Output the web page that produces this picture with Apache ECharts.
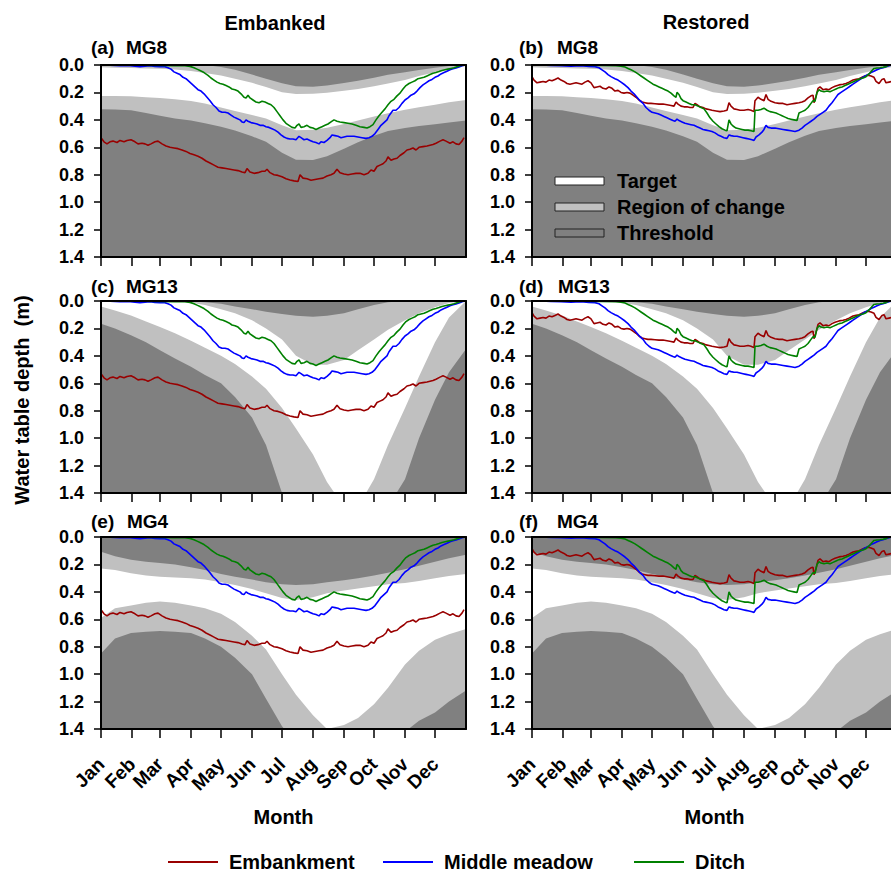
<!DOCTYPE html>
<html><head><meta charset="utf-8">
<script src="https://cdn.jsdelivr.net/npm/echarts@6/dist/echarts.min.js"></script>
<style>html,body{margin:0;padding:0;background:#fff}#c{width:891px;height:873px}</style>
</head><body><div id="c"></div><script>
// ---------- axis categories / ticks ----------
const MONTHS = ['Jan','Feb','Mar','Apr','May','Jun','Jul','Aug','Sep','Oct','Nov','Dec'];
const MONTH_START = [1,32,60,91,121,152,182,213,244,274,305,335];
const DEPTH_MIN = 0, DEPTH_MAX = 1.4, DEPTH_STEP = 0.2;

// ---------- band boundaries (depth, m) at these days ----------
const BAND_DAYS = [1,15,31,46,60,75,91,105,121,135,152,166,182,196,213,227,244,258,274,288,305,319,335,349,366];

const MG8_UPPER_THRESHOLD = [0,0,0,0,0,0,0,0,0.015,0.035,0.07,0.1,0.133,0.155,0.158,0.15,0.132,0.115,0.093,0.072,0.052,0.036,0.02,0.008,0];
const MG8_UPPER_TARGET    = [0.017,0.02,0.022,0.025,0.028,0.033,0.043,0.058,0.077,0.1,0.13,0.16,0.198,0.212,0.21,0.202,0.188,0.175,0.155,0.135,0.11,0.08,0.052,0.03,0.008];
const MG8_LOWER_TARGET    = [0.226,0.226,0.228,0.235,0.24,0.25,0.262,0.28,0.31,0.335,0.365,0.39,0.44,0.475,0.472,0.458,0.43,0.405,0.375,0.352,0.327,0.308,0.29,0.272,0.255];
const MG8_LOWER_THRESHOLD = [0.323,0.325,0.33,0.35,0.37,0.39,0.405,0.425,0.45,0.478,0.52,0.56,0.64,0.69,0.692,0.665,0.61,0.563,0.515,0.482,0.46,0.445,0.432,0.42,0.405];

const MG13_UPPER_THRESHOLD = [0,0,0,0,0,0,0.003,0.01,0.02,0.04,0.06,0.078,0.095,0.108,0.114,0.108,0.09,0.06,0.03,0.01,0,0,0,0,0];
const MG13_UPPER_TARGET    = [0,0,0,0,0,0.003,0.012,0.03,0.06,0.09,0.14,0.2,0.28,0.4,0.465,0.465,0.43,0.36,0.28,0.21,0.14,0.09,0.045,0.015,0];
const MG13_LOWER_TARGET    = [0.04,0.07,0.105,0.15,0.19,0.235,0.29,0.34,0.4,0.46,0.55,0.64,0.78,0.93,1.12,1.32,1.5,1.5,1.3,1.05,0.78,0.55,0.3,0.12,0];
const MG13_LOWER_THRESHOLD = [0.165,0.2,0.25,0.3,0.36,0.42,0.48,0.54,0.6,0.7,0.85,1.05,1.4,1.5,1.5,1.5,1.5,1.5,1.5,1.5,1.3,1.0,0.72,0.52,0.35];

const MG4_UPPER_THRESHOLD = [0.107,0.14,0.165,0.18,0.19,0.2,0.22,0.24,0.27,0.29,0.31,0.33,0.345,0.35,0.345,0.33,0.315,0.3,0.28,0.26,0.235,0.21,0.18,0.155,0.13];
const MG4_UPPER_TARGET    = [0.23,0.24,0.265,0.28,0.29,0.295,0.3,0.31,0.33,0.35,0.38,0.41,0.445,0.46,0.44,0.41,0.39,0.375,0.36,0.345,0.335,0.32,0.3,0.285,0.27];
const MG4_LOWER_TARGET    = [0.59,0.52,0.5,0.48,0.47,0.48,0.5,0.52,0.56,0.62,0.72,0.82,1.0,1.15,1.3,1.4,1.37,1.32,1.22,1.1,0.93,0.83,0.75,0.71,0.67];
const MG4_LOWER_THRESHOLD = [0.85,0.74,0.7,0.69,0.685,0.69,0.7,0.74,0.8,0.88,1.0,1.18,1.38,1.5,1.5,1.5,1.5,1.5,1.5,1.5,1.42,1.34,1.28,1.2,1.12];

// ---------- water table depth series [day, depth m] ----------
const EMBANKED_EMBANKMENT = [[1,0.53],[4,0.56],[7,0.575],[10,0.56],[13,0.555],[17,0.565],[20,0.55],[24,0.56],[27,0.55],[31,0.545],[35,0.56],[38,0.575],[42,0.57],[45,0.575],[48,0.585],[51,0.575],[55,0.56],[58,0.555],[62,0.575],[66,0.59],[70,0.6],[74,0.605],[78,0.61],[82,0.62],[86,0.63],[90,0.645],[94,0.655],[98,0.665],[102,0.68],[106,0.7],[110,0.715],[114,0.73],[118,0.745],[122,0.75],[126,0.755],[130,0.76],[134,0.765],[138,0.77],[142,0.78],[145,0.785],[147,0.755],[150,0.78],[154,0.79],[158,0.785],[162,0.775],[165,0.775],[167,0.76],[170,0.785],[174,0.8],[178,0.805],[182,0.815],[186,0.83],[190,0.838],[194,0.845],[198,0.85],[200,0.8],[203,0.825],[207,0.83],[211,0.84],[215,0.835],[219,0.83],[223,0.825],[227,0.81],[231,0.8],[234,0.79],[237,0.76],[240,0.785],[244,0.795],[248,0.8],[252,0.795],[256,0.79],[260,0.79],[264,0.8],[268,0.79],[271,0.765],[274,0.775],[277,0.74],[280,0.73],[283,0.72],[286,0.7],[288,0.67],[291,0.695],[294,0.685],[297,0.68],[300,0.66],[304,0.64],[307,0.62],[310,0.615],[313,0.605],[316,0.62],[319,0.6],[323,0.595],[327,0.59],[330,0.585],[333,0.58],[336,0.57],[340,0.555],[343,0.545],[346,0.555],[350,0.57],[353,0.56],[356,0.575],[359,0.58],[362,0.555],[364,0.53]];
const EMBANKED_MIDDLE = [[3,0],[10,0.002],[20,0.005],[28,0.003],[35,0.008],[40,0.012],[45,0.008],[50,0.005],[55,0.01],[60,0.012],[64,0.01],[68,0.02],[71,0.03],[74,0.05],[77,0.06],[80,0.07],[83,0.09],[86,0.1],[89,0.12],[92,0.14],[95,0.16],[98,0.18],[101,0.19],[104,0.21],[107,0.235],[110,0.26],[113,0.29],[116,0.31],[119,0.335],[122,0.345],[125,0.345],[128,0.35],[131,0.365],[134,0.38],[137,0.39],[140,0.4],[142,0.415],[144,0.42],[146,0.4],[148,0.41],[151,0.42],[154,0.425],[157,0.43],[160,0.44],[163,0.44],[166,0.45],[169,0.455],[172,0.465],[175,0.475],[178,0.49],[181,0.51],[184,0.525],[187,0.535],[190,0.54],[193,0.54],[196,0.545],[199,0.52],[201,0.53],[204,0.545],[207,0.54],[210,0.55],[213,0.56],[216,0.565],[219,0.575],[221,0.56],[224,0.565],[227,0.55],[230,0.53],[232,0.51],[235,0.515],[238,0.52],[241,0.53],[244,0.525],[247,0.52],[250,0.52],[254,0.52],[258,0.525],[262,0.53],[266,0.535],[269,0.53],[272,0.52],[275,0.5],[278,0.47],[281,0.44],[284,0.42],[287,0.4],[289,0.37],[291,0.35],[293,0.33],[296,0.33],[299,0.31],[302,0.28],[305,0.255],[308,0.24],[311,0.22],[314,0.21],[317,0.19],[320,0.165],[323,0.145],[326,0.13],[329,0.115],[332,0.105],[335,0.09],[338,0.08],[341,0.065],[344,0.055],[347,0.045],[350,0.035],[353,0.028],[356,0.022],[359,0.015],[362,0.005],[365,0]];
const EMBANKED_DITCH = [[3,0],[20,0],[40,0.002],[60,0.003],[75,0.005],[85,0.006],[90,0.01],[94,0.02],[97,0.03],[100,0.04],[104,0.055],[108,0.075],[111,0.095],[114,0.11],[117,0.125],[120,0.135],[123,0.14],[126,0.15],[129,0.16],[132,0.175],[135,0.18],[138,0.19],[141,0.21],[144,0.235],[146,0.24],[148,0.22],[150,0.24],[153,0.255],[156,0.27],[159,0.275],[162,0.265],[165,0.27],[168,0.28],[171,0.29],[174,0.31],[177,0.34],[180,0.37],[183,0.4],[186,0.425],[189,0.44],[192,0.455],[195,0.46],[197,0.44],[199,0.43],[201,0.455],[204,0.45],[207,0.44],[210,0.455],[213,0.46],[216,0.47],[219,0.46],[222,0.45],[225,0.44],[228,0.43],[231,0.415],[234,0.4],[237,0.41],[240,0.415],[244,0.42],[248,0.425],[252,0.43],[256,0.44],[260,0.45],[264,0.455],[267,0.46],[270,0.45],[273,0.435],[276,0.4],[279,0.37],[282,0.345],[285,0.32],[288,0.29],[291,0.265],[294,0.25],[297,0.225],[300,0.205],[303,0.175],[306,0.15],[309,0.135],[312,0.125],[315,0.115],[318,0.1],[321,0.095],[324,0.09],[327,0.08],[330,0.07],[333,0.06],[336,0.055],[339,0.048],[342,0.04],[345,0.035],[348,0.03],[351,0.025],[354,0.02],[357,0.012],[360,0.005],[363,0]];

const RESTORED_EMBANKMENT = [[1,0.085],[3,0.11],[6,0.13],[9,0.125],[12,0.12],[15,0.125],[18,0.11],[21,0.115],[24,0.105],[27,0.095],[30,0.11],[33,0.12],[36,0.135],[39,0.14],[42,0.135],[45,0.13],[48,0.135],[51,0.14],[54,0.125],[57,0.115],[60,0.13],[63,0.165],[66,0.16],[69,0.155],[72,0.17],[75,0.175],[78,0.16],[81,0.17],[84,0.19],[87,0.185],[90,0.2],[93,0.205],[96,0.2],[99,0.205],[102,0.22],[105,0.235],[108,0.255],[111,0.27],[114,0.275],[117,0.28],[120,0.28],[124,0.282],[128,0.285],[132,0.285],[136,0.29],[140,0.295],[143,0.3],[145,0.27],[147,0.285],[150,0.3],[153,0.305],[156,0.305],[159,0.31],[162,0.31],[164,0.28],[166,0.29],[169,0.305],[172,0.31],[175,0.32],[178,0.325],[181,0.33],[185,0.335],[189,0.34],[193,0.335],[196,0.33],[198,0.275],[200,0.3],[203,0.32],[206,0.325],[209,0.33],[213,0.33],[217,0.325],[220,0.33],[223,0.34],[224,0.26],[227,0.235],[230,0.25],[233,0.26],[235,0.215],[237,0.25],[240,0.265],[244,0.275],[248,0.28],[252,0.28],[256,0.29],[260,0.285],[264,0.28],[268,0.275],[271,0.27],[274,0.26],[277,0.24],[280,0.225],[282,0.22],[283,0.275],[285,0.23],[287,0.17],[289,0.16],[292,0.18],[295,0.175],[298,0.18],[301,0.165],[304,0.155],[308,0.145],[312,0.14],[315,0.135],[318,0.125],[322,0.11],[325,0.105],[328,0.1],[331,0.09],[334,0.08],[337,0.075],[340,0.08],[343,0.09],[345,0.12],[348,0.135],[351,0.105],[353,0.1],[355,0.13],[358,0.125],[361,0.12],[364,0.1]];
const RESTORED_MIDDLE = [[10,0],[20,0.003],[30,0.005],[40,0.008],[50,0.005],[58,0.01],[64,0.012],[68,0.02],[71,0.035],[74,0.05],[77,0.07],[80,0.085],[84,0.1],[87,0.11],[90,0.125],[94,0.146],[97,0.165],[100,0.19],[103,0.21],[106,0.235],[109,0.26],[112,0.28],[115,0.31],[118,0.33],[121,0.345],[124,0.35],[127,0.355],[130,0.365],[133,0.375],[136,0.385],[139,0.395],[142,0.405],[144,0.41],[146,0.395],[148,0.405],[151,0.415],[154,0.425],[157,0.43],[160,0.435],[163,0.44],[166,0.45],[169,0.46],[172,0.47],[175,0.475],[178,0.48],[181,0.485],[184,0.495],[187,0.51],[190,0.52],[193,0.53],[196,0.535],[198,0.51],[200,0.515],[203,0.52],[206,0.52],[209,0.525],[212,0.53],[215,0.535],[218,0.54],[221,0.545],[223,0.55],[225,0.525],[228,0.51],[231,0.49],[233,0.47],[235,0.44],[237,0.455],[240,0.46],[244,0.46],[248,0.465],[252,0.47],[256,0.475],[260,0.48],[264,0.485],[268,0.475],[271,0.46],[274,0.44],[277,0.425],[280,0.41],[283,0.395],[286,0.375],[289,0.36],[292,0.345],[295,0.33],[298,0.3],[301,0.275],[304,0.245],[307,0.215],[310,0.2],[313,0.185],[316,0.17],[319,0.155],[322,0.14],[325,0.125],[328,0.11],[331,0.095],[334,0.08],[337,0.07],[340,0.055],[343,0.045],[346,0.035],[349,0.025],[352,0.02],[355,0.012],[358,0.006],[361,0]];
const RESTORED_DITCH = [[10,0],[30,0],[50,0.002],[70,0.003],[85,0.005],[90,0.008],[94,0.015],[97,0.025],[100,0.035],[104,0.05],[107,0.065],[110,0.08],[113,0.095],[116,0.11],[119,0.125],[122,0.14],[125,0.15],[128,0.16],[131,0.17],[134,0.18],[137,0.19],[140,0.205],[143,0.225],[145,0.235],[146,0.2],[148,0.215],[150,0.245],[152,0.26],[155,0.27],[158,0.28],[161,0.29],[164,0.29],[167,0.3],[170,0.31],[173,0.32],[176,0.35],[179,0.385],[182,0.41],[185,0.43],[188,0.45],[191,0.465],[194,0.475],[196,0.48],[198,0.4],[200,0.43],[202,0.445],[205,0.46],[208,0.465],[211,0.47],[214,0.475],[217,0.475],[220,0.48],[223,0.485],[224,0.33],[227,0.33],[230,0.325],[233,0.315],[236,0.33],[239,0.34],[242,0.345],[245,0.35],[248,0.36],[251,0.37],[254,0.38],[257,0.39],[260,0.395],[263,0.4],[266,0.405],[268,0.35],[271,0.34],[274,0.33],[277,0.31],[280,0.28],[282,0.26],[284,0.265],[286,0.2],[288,0.18],[290,0.19],[293,0.195],[296,0.19],[299,0.195],[302,0.185],[305,0.175],[308,0.165],[311,0.16],[314,0.15],[317,0.14],[320,0.13],[323,0.12],[326,0.11],[329,0.1],[332,0.095],[335,0.085],[338,0.065],[341,0.04],[343,0.025],[346,0.022],[349,0.02],[352,0.017],[355,0.012],[358,0]];

// ---------- styling ----------
const FONT = '"Liberation Sans", Arial, Helvetica, sans-serif';
const DARK = '#808080', LIGHT = '#c0c0c0', WHITE = '#ffffff';
const COLORS = {Embankment:'#990000', 'Middle meadow':'#0000ff', Ditch:'#008000'};

const BANDS = {
  MG8:  {uThr: MG8_UPPER_THRESHOLD,  uTgt: MG8_UPPER_TARGET,  lTgt: MG8_LOWER_TARGET,  lThr: MG8_LOWER_THRESHOLD},
  MG13: {uThr: MG13_UPPER_THRESHOLD, uTgt: MG13_UPPER_TARGET, lTgt: MG13_LOWER_TARGET, lThr: MG13_LOWER_THRESHOLD},
  MG4:  {uThr: MG4_UPPER_THRESHOLD,  uTgt: MG4_UPPER_TARGET,  lTgt: MG4_LOWER_TARGET,  lThr: MG4_LOWER_THRESHOLD}
};
const LINES = {
  embanked: {Embankment: EMBANKED_EMBANKMENT, 'Middle meadow': EMBANKED_MIDDLE, Ditch: EMBANKED_DITCH},
  restored: {Embankment: RESTORED_EMBANKMENT, 'Middle meadow': RESTORED_MIDDLE, Ditch: RESTORED_DITCH}
};
const PANELS = [
  {tag:'(a)', site:'MG8',  lines:'embanked', left:101, top:65,  tagX:91,  siteX:126, labY:47},
  {tag:'(b)', site:'MG8',  lines:'restored', left:532, top:65,  tagX:519, siteX:557, labY:47},
  {tag:'(c)', site:'MG13', lines:'embanked', left:101, top:301, tagX:91,  siteX:126, labY:286},
  {tag:'(d)', site:'MG13', lines:'restored', left:532, top:301, tagX:519, siteX:558, labY:286},
  {tag:'(e)', site:'MG4',  lines:'embanked', left:101, top:537, tagX:91,  siteX:127, labY:521},
  {tag:'(f)', site:'MG4',  lines:'restored', left:532, top:537, tagX:519, siteX:557, labY:521}
];

const pairs = (days, vals) => days.map((d, i) => [d, vals[i]]);
const txt = (size) => ({fontSize: size, fontWeight: 'bold', fontFamily: FONT, color: '#000'});

const grid = [], xAxis = [], yAxis = [], series = [], graphic = [];
const frame = {color: '#000', width: 2};

PANELS.forEach((p, i) => {
  const bottomRow = i >= 4;
  grid.push({left: p.left, top: p.top, width: 365, height: 192, show: true,
    backgroundColor: DARK, borderWidth: 0, containLabel: false, outerBoundsMode: 'none'});
  xAxis.push({type: 'value', gridIndex: i, position: 'bottom', min: 1, max: 366, z: 5,
    axisLine: {show: true, onZero: false, lineStyle: frame},
    axisTick: {show: true, customValues: MONTH_START, length: 9, lineStyle: {color: '#000', width: 1.5}},
    axisLabel: {show: bottomRow, customValues: MONTH_START, rotate: 45, margin: 32,
      formatter: v => MONTHS[MONTH_START.indexOf(Math.round(v))], ...txt(19)},
    splitLine: {show: false},
    name: bottomRow ? 'Month' : '', nameLocation: 'middle', nameGap: 78, nameTextStyle: txt(20)});
  xAxis.push({type: 'value', gridIndex: i, position: 'top', min: 1, max: 366, z: 5,
    axisLine: {show: true, onZero: false, lineStyle: frame}, axisTick: {show: false},
    axisLabel: {show: false}, splitLine: {show: false}});
  yAxis.push({type: 'value', gridIndex: i, position: 'left', inverse: true,
    min: DEPTH_MIN, max: DEPTH_MAX, interval: DEPTH_STEP, z: 5,
    axisLine: {show: true, onZero: false, lineStyle: frame},
    axisTick: {show: true, length: 7, lineStyle: {color: '#000', width: 1.5}},
    axisLabel: {margin: 17, formatter: v => v.toFixed(1), ...txt(18)},
    splitLine: {show: false}});
  yAxis.push({type: 'value', gridIndex: i, position: 'right', inverse: true,
    min: DEPTH_MIN, max: DEPTH_MAX, z: 5,
    axisLine: {show: true, onZero: false, lineStyle: frame}, axisTick: {show: false},
    axisLabel: {show: false}, splitLine: {show: false}});

  const b = BANDS[p.site];
  [['Region of change', b.lThr, LIGHT], ['Target', b.lTgt, WHITE],
   ['Region of change', b.uTgt, LIGHT], ['Threshold', b.uThr, DARK]].forEach(([name, vals, col]) => {
    series.push({type: 'line', name, xAxisIndex: 2 * i, yAxisIndex: 2 * i,
      data: pairs(BAND_DAYS, vals), symbol: 'none', silent: true, z: 1, clip: true,
      lineStyle: {width: 0, color: col}, itemStyle: {color: col},
      areaStyle: {color: col, opacity: 1, origin: 'start'}});
  });
  const L = LINES[p.lines];
  ['Embankment', 'Middle meadow', 'Ditch'].forEach(name => {
    series.push({type: 'line', name, xAxisIndex: 2 * i, yAxisIndex: 2 * i,
      data: L[name], symbol: 'none', silent: true, z: 3, clip: true,
      lineStyle: {width: 1.6, color: COLORS[name]}, itemStyle: {color: COLORS[name]}});
  });

  graphic.push({type: 'text', x: p.tagX, y: p.labY,
    style: {text: p.tag, fontSize: 19, fontWeight: 'bold', fontFamily: FONT, fill: '#000', align: 'left', verticalAlign: 'middle'}});
  graphic.push({type: 'text', x: p.siteX, y: p.labY,
    style: {text: p.site, fontSize: 19, fontWeight: 'bold', fontFamily: FONT, fill: '#000', align: 'left', verticalAlign: 'middle'}});
});

// column headings and y label
graphic.push({type: 'text', x: 275, y: 23, style: {text: 'Embanked', fontSize: 20, fontWeight: 'bold', fontFamily: FONT, fill: '#000', align: 'center', verticalAlign: 'middle'}});
graphic.push({type: 'text', x: 706, y: 22, style: {text: 'Restored', fontSize: 20, fontWeight: 'bold', fontFamily: FONT, fill: '#000', align: 'center', verticalAlign: 'middle'}});
graphic.push({type: 'text', x: 22, y: 400, rotation: Math.PI / 2, style: {text: 'Water table depth  (m)', fontSize: 20, fontWeight: 'bold', fontFamily: FONT, fill: '#000', align: 'center', verticalAlign: 'middle'}});

// band key inside panel (b)
[['Target', WHITE, 181], ['Region of change', LIGHT, 207], ['Threshold', DARK, 233]].forEach(([t, c, y]) => {
  graphic.push({type: 'rect', shape: {x: 555, y: y - 4, width: 49, height: 8}, style: {fill: c, stroke: '#222', lineWidth: 1}, z: 10});
  graphic.push({type: 'text', x: 617, y: y, z: 10, style: {text: t, fontSize: 20, fontWeight: 'bold', fontFamily: FONT, fill: '#000', align: 'left', verticalAlign: 'middle'}});
});

const legendBase = {itemWidth: 50, itemHeight: 2, icon: 'rect', selectedMode: false,
  textStyle: {...txt(20), lineHeight: 20, padding: [0, 0, 0, 6]}, top: 852, padding: 0};
const legend = [
  {...legendBase, data: ['Embankment'], left: 168},
  {...legendBase, data: ['Middle meadow'], left: 383},
  {...legendBase, data: ['Ditch'], left: 634}
];

const chart = echarts.init(document.getElementById('c'), null, {renderer: 'svg', width: 891, height: 873});
chart.setOption({animation: false, backgroundColor: '#fff', grid, xAxis, yAxis, series, legend, graphic, tooltip: {show: false}});
</script></body></html>
